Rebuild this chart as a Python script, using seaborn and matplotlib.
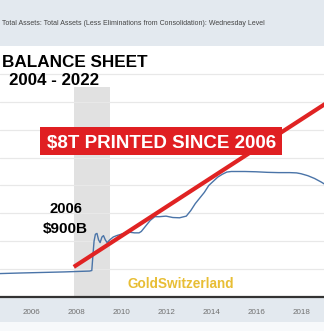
import matplotlib
matplotlib.use("Agg")
import matplotlib.pyplot as plt
from matplotlib.patches import Rectangle
import seaborn as sns
import pandas as pd

# ---- data (Fed total assets, trillions USD) ----
dates = [2004.62, 2005.5, 2006.5, 2007.5, 2008.6, 2008.70, 2008.75, 2008.80, 2008.86,
         2008.93, 2009.0, 2009.07, 2009.15, 2009.22, 2009.3, 2009.38, 2009.5, 2009.65,
         2009.8, 2010.0, 2010.2, 2010.4, 2010.6, 2010.8, 2010.9, 2011.1, 2011.3, 2011.5,
         2011.7, 2012.0, 2012.3, 2012.6, 2012.9, 2013.1, 2013.3, 2013.5, 2013.7, 2013.9,
         2014.1, 2014.3, 2014.5, 2014.7, 2014.9, 2015.5, 2016.0, 2016.5, 2017.0, 2017.5,
         2017.8, 2018.0, 2018.3, 2018.6, 2018.9, 2019.1]
assets = [0.84, 0.86, 0.88, 0.90, 0.93, 0.95, 1.5, 2.0, 2.25,
          2.28, 2.05, 1.95, 2.15, 2.2, 2.05, 1.95, 2.05, 2.15,
          2.2, 2.25, 2.3, 2.32, 2.3, 2.3, 2.35, 2.55, 2.75, 2.88,
          2.88, 2.9, 2.85, 2.84, 2.9, 3.1, 3.35, 3.55, 3.75, 4.0,
          4.15, 4.3, 4.4, 4.48, 4.5, 4.5, 4.49, 4.47, 4.46, 4.46,
          4.45, 4.42, 4.35, 4.25, 4.12, 4.02]
tick_years = [2006, 2008, 2010, 2012, 2014, 2016, 2018]
tick_labels = ["2006", "2008", "2010", "2012", "2014", "2016", "2018"]
recession = [2007.92, 2009.5]
trend_x = [2007.9, 2019.6]
trend_y = [1.08, 7.2]

subtitle = "Total Assets: Total Assets (Less Eliminations from Consolidation): Wednesday Level"
title1 = "BALANCE SHEET"
title2 = "2004 - 2022"
callout = "$8T PRINTED SINCE 2006"
note1 = "2006"
note2 = "$900B"
brand = "GoldSwitzerland"

sns.set_theme(style="white")
plt.rcParams['font.family'] = ['Liberation Sans', 'DejaVu Sans']

W, H = 324, 331
fig = plt.figure(figsize=(W / 100, H / 100), dpi=100)
band = "#E3E9EF"
fig.patch.set_facecolor(band)

def fx(px):
    return px / W

def fy(py):
    return 1 - py / H

# lighter strip at very bottom
fig.patches.append(Rectangle((0, 0), 1, (H - 322) / H, transform=fig.transFigure,
                             facecolor="#F7F9FB", edgecolor="none", zorder=0))

ax_top, ax_bot = 46, 297
ax = fig.add_axes([0, fy(ax_bot), 1, (ax_bot - ax_top) / H])
ax.set_facecolor("white")
ax.set_xlim(2004.62, 2019.02)
ax.set_ylim(0, 9)

ax.set_yticks([1, 2, 3, 4, 5, 6, 7, 8])
ax.yaxis.grid(True, color="#E8E8E8", linewidth=0.9)
ax.set_yticklabels([])
ax.tick_params(axis="y", length=0)

ax.axvspan(recession[0], recession[1], ymin=0, ymax=(ax_bot - 87) / (ax_bot - ax_top),
           color="#E1E1E1", zorder=0.5, linewidth=0)

df = pd.DataFrame({"date": dates, "assets": assets})
sns.lineplot(data=df, x="date", y="assets", ax=ax, color="#4A74A8", linewidth=1.0, zorder=3)

ax.plot(trend_x, trend_y, color="#E02323", linewidth=3.0, solid_capstyle="butt", zorder=4)

ax.set_xticks(tick_years)
ax.set_xticklabels(tick_labels, fontsize=5.8, color="#707070")
ax.tick_params(axis="x", length=2, color="#999999", pad=7)
ax.set_xlabel("")
ax.set_ylabel("")
for s in ["top", "left", "right"]:
    ax.spines[s].set_visible(False)
ax.spines["bottom"].set_color("#333333")
ax.spines["bottom"].set_linewidth(1.6)

# subtitle
fig.text(fx(2), fy(25), subtitle, fontsize=5.05, color="#444444",
         ha="left", va="baseline")

# titles
fig.text(fx(2), fy(67), title1, fontsize=12.3, fontweight="bold", color="black",
         ha="left", va="baseline", zorder=10)
fig.text(fx(9), fy(85), title2, fontsize=12.2, fontweight="bold", color="black",
         ha="left", va="baseline", zorder=10)

# red callout box
fig.patches.append(Rectangle((fx(40), fy(155)), fx(242), (155 - 127) / H,
                             transform=fig.transFigure, facecolor="#E01F22",
                             edgecolor="none", zorder=9))
fig.text(fx(162), fy(147.5), callout, fontsize=13.5, fontweight="bold", color="white",
         ha="center", va="baseline", zorder=10)

# notes
fig.text(fx(65.5), fy(213), note1, fontsize=10.7, fontweight="bold", color="black",
         ha="center", va="baseline", zorder=10)
fig.text(fx(65.5), fy(233), note2, fontsize=11, fontweight="bold", color="black",
         ha="center", va="baseline", zorder=10)

fig.text(fx(181), fy(288), brand, fontsize=9.8, fontweight="bold", color="#E8BE35",
         ha="center", va="baseline", zorder=10)

fig.savefig("out.png", dpi=100, facecolor=fig.get_facecolor())
